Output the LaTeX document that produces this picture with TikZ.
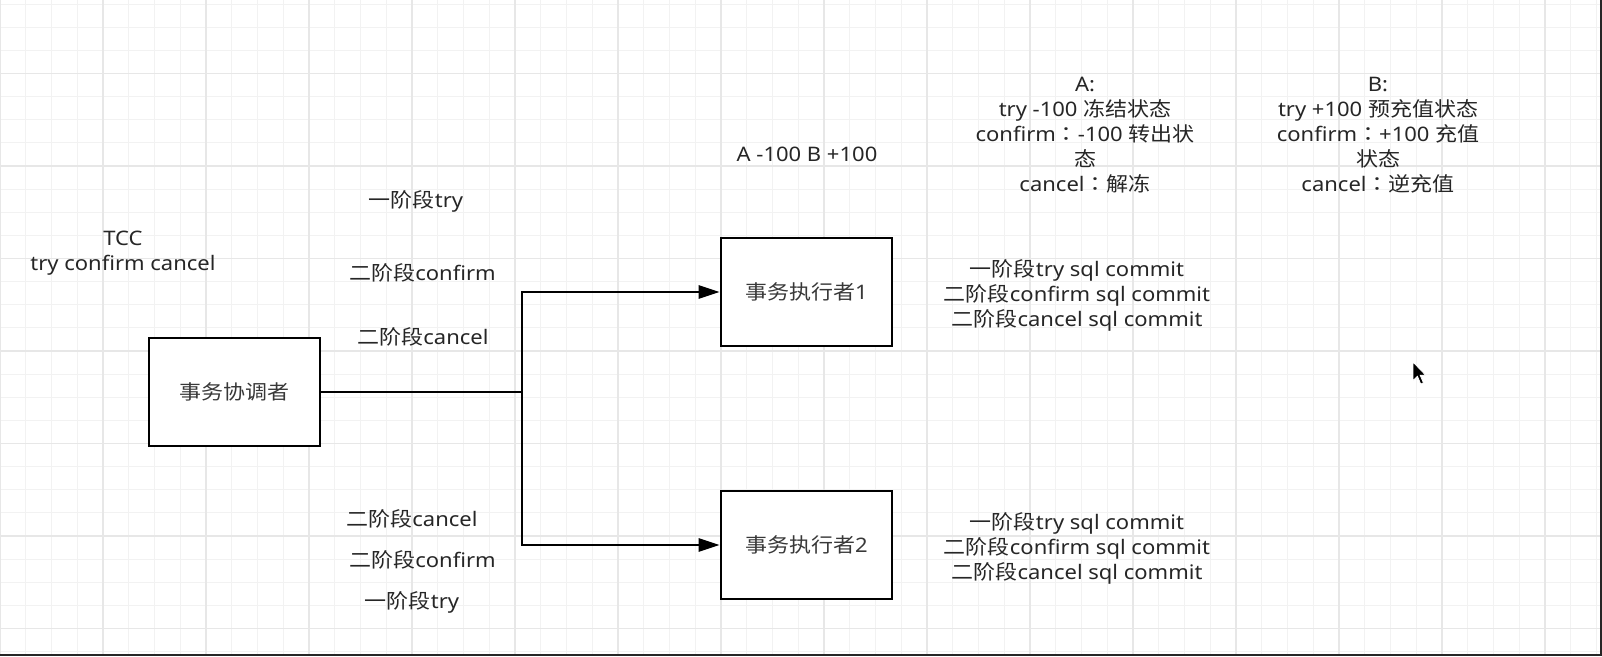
\documentclass[tikz,border=0pt]{standalone}
\usepackage{fontspec}
\setmainfont{Noto Sans}[FakeStretch=1.1]
\newfontfamily\cjkf{Noto Sans CJK SC}[FakeStretch=1.1]
\newfontfamily\cjkp{Noto Sans CJK TC}[FakeStretch=1.1]
\newcommand\zh[1]{{\cjkf #1}}
\newcommand\zcolon{{\cjkp ：}}
\usetikzlibrary{arrows.meta}
\definecolor{txt}{HTML}{262626}
\definecolor{boxtxt}{HTML}{383838}
\definecolor{gridminor}{HTML}{F2F2F2}
\definecolor{gridmajor}{HTML}{E7E7E7}
\tikzset{
  lbl/.style={text=txt, inner sep=0pt, align=center, yshift=-2.5pt},
  box/.style={draw=black, line width=2.8pt, fill=white, minimum width=171pt, minimum height=108pt, inner sep=0pt, text=boxtxt},
  conn/.style={draw=black, line width=2.8pt},
  arr/.style={conn, -{Triangle[length=21pt,width=13pt]}},
}
\begin{document}
\begin{tikzpicture}[x=1pt, y=-1pt, font=\fontsize{20}{25}\selectfont]
\useasboundingbox (0,0) rectangle (1602,656);
\fill[white] (0,0) rectangle (1602,656);
% grid
\foreach \i in {0,...,62} \draw[gridminor, line width=0.9pt] (\i*25.75,0) -- (\i*25.75,656);
\foreach \j in {-3,...,25} \draw[gridminor, line width=0.9pt] (0,73.5+\j*23.125) -- (1602,73.5+\j*23.125);
\foreach \i in {0,...,15} \draw[gridmajor, line width=1.3pt] (\i*103,0) -- (\i*103,656);
\foreach \j in {-1,...,6} \draw[gridmajor, line width=1.3pt] (0,73.5+\j*92.5) -- (1602,73.5+\j*92.5);
% screen edges
\draw[black!85, line width=2.5pt] (0,655) -- (1602,655);
\draw[black!85, line width=2pt] (1601,0) -- (1601,656);

% boxes
\node[box] (c) at (234.5,392) {\zh{事务协调者}};
\node[box] (e1) at (806.5,292) {\zh{事务执行者}1};
\node[box] (e2) at (806.5,545) {\zh{事务执行者}2};

% connectors
\coordinate (j) at (522,392);
\draw[conn] (c.east) -- (j);
\draw[arr] (j) |- (e1.west);
\draw[arr] (j) |- (e2.west);

% labels
\node[lbl] (tcc) at (123,251) {TCC\\try confirm cancel};
\node[lbl] (t1) at (416,199) {\zh{一阶段}try};
\node[lbl] (t2) at (422.5,270) {\zh{二阶段}confirm};
\node[lbl] (t3) at (423,334) {\zh{二阶段}cancel};
\node[lbl] (b1) at (412,516) {\zh{二阶段}cancel};
\node[lbl] (b2) at (422.5,557) {\zh{二阶段}confirm};
\node[lbl] (b3) at (412,600) {\zh{一阶段}try};
\node[lbl] (ab) at (807,152) {A -100 B +100};
\node[lbl] (A) at (1085,133) {A:\\try -100 \zh{冻结状态}\\confirm\zcolon-100 \zh{转出状}\\\zh{态}\\cancel\zcolon\zh{解冻}};
\node[lbl] (B) at (1378,133) {B:\\try +100 \zh{预充值状态}\\confirm\zcolon+100 \zh{充值}\\\zh{状态}\\cancel\zcolon\zh{逆充值}};
\node[lbl] (s1) at (1077,292.5) {\zh{一阶段}try sql commit\\\zh{二阶段}confirm sql commit\\\zh{二阶段}cancel sql commit};
\node[lbl] (s2) at (1077,545.5) {\zh{一阶段}try sql commit\\\zh{二阶段}confirm sql commit\\\zh{二阶段}cancel sql commit};

% mouse pointer
\fill[black, draw=white, line width=0.8pt, shift={(1413,362)}, scale=1.1]
  (0,0) -- (0,17) -- (4,13) -- (7,20) -- (9.5,19) -- (6.5,12) -- (11.5,12) -- cycle;
\end{tikzpicture}
\end{document}
